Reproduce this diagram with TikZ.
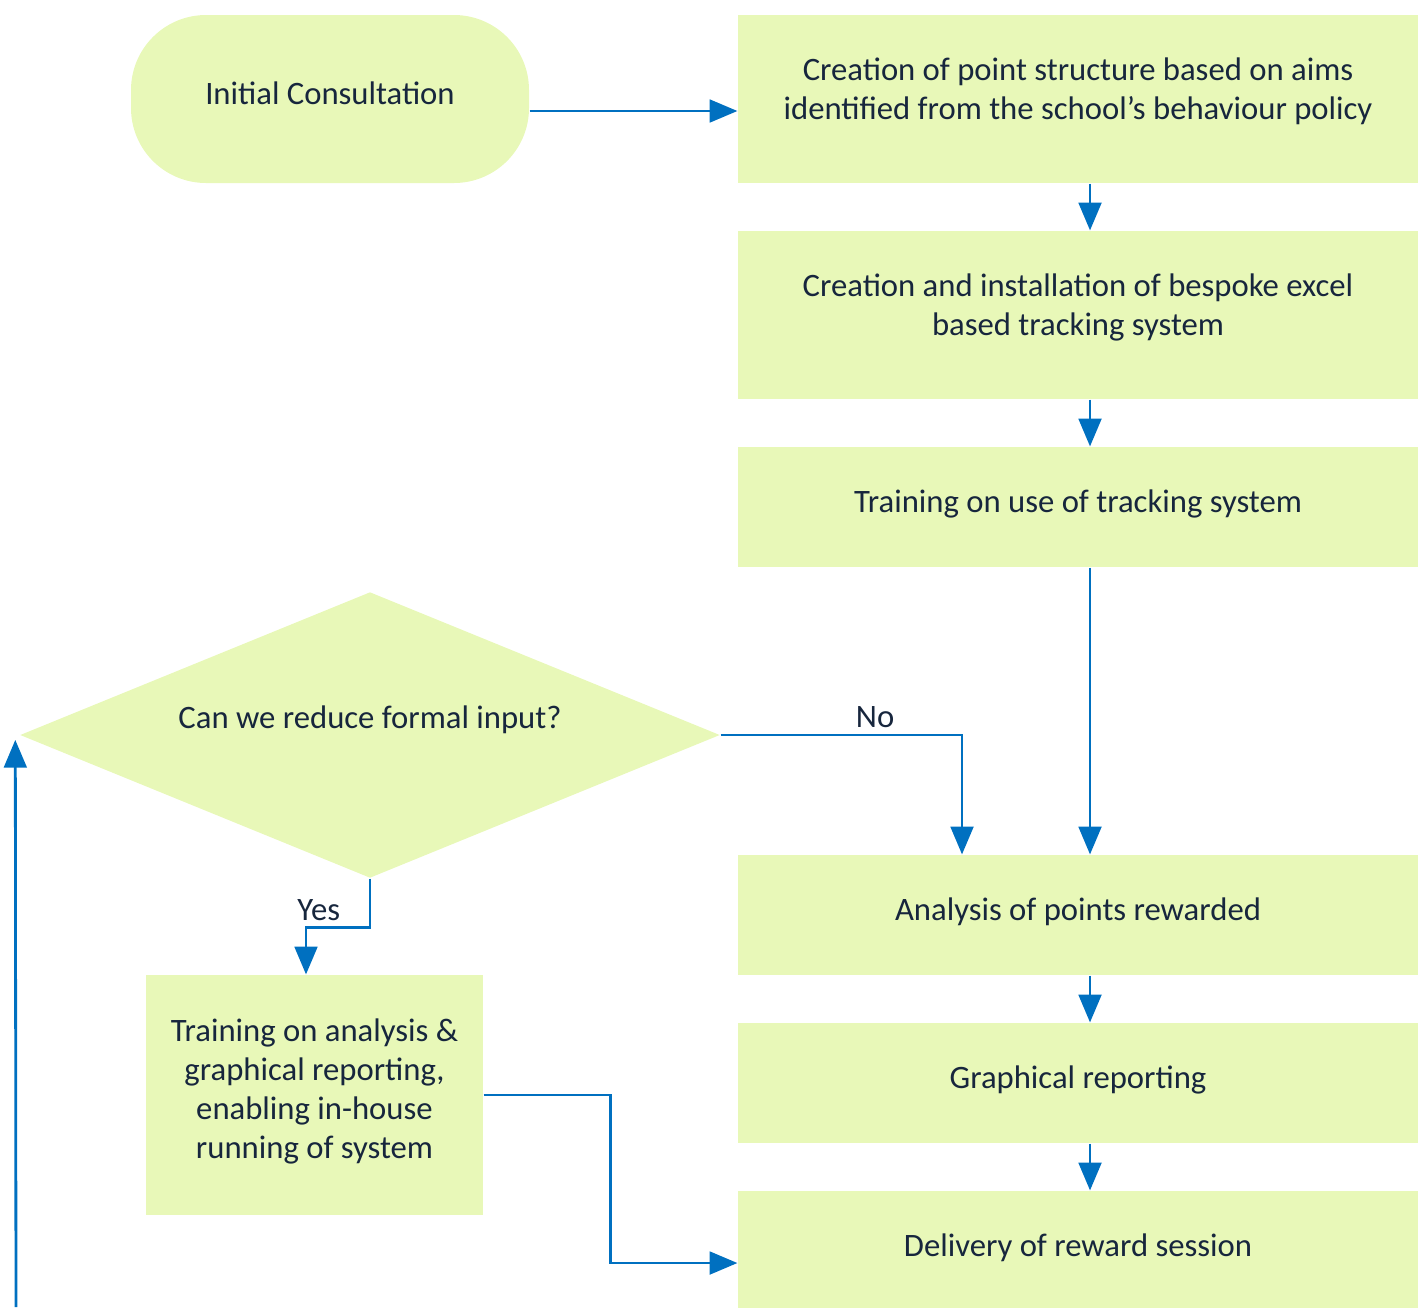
\documentclass[tikz,border=0pt]{standalone}
\usepackage{fontspec}
\setmainfont{Carlito}
\usepackage{tikz}
\usetikzlibrary{shapes.geometric, arrows, positioning}
\definecolor{boxfill}{HTML}{E8F8B8}
\definecolor{linkblue}{HTML}{0070C0}
\definecolor{textnavy}{HTML}{17263D}
\newcommand{\boxpad}[1]{\endgraf\vskip#1\hrule height0pt}
\tikzstyle{terminal}=
[
	rectangle
	,rounded corners=0.75cm
	,minimum width=3.98cm
	,minimum height=1.68cm
	,text depth=0.12cm
	,fill=boxfill
	,align=center
]
\tikzstyle{process1}=
[
	rectangle
	,text width=6.4cm
	,inner sep=0.2cm
	,minimum height=1.68cm
	,fill=boxfill
	,align=flush center
	,execute at end node={\boxpad{0.16cm}}
]
\tikzstyle{process2}=
[
	rectangle
	,text width=6.4cm
	,inner sep=0.2cm
	,minimum height=1.2cm
	,fill=boxfill
	,align=flush center
	,execute at end node={\boxpad{0.06cm}}
]
\tikzstyle{process3}=
[
	rectangle
	,text width=3.17cm
	,inner sep=0.1cm
	,minimum height=2.4cm
	,fill=boxfill
	,align=flush center
	,execute at end node={\boxpad{0.08cm}}
]
\tikzstyle{decision}=
[
	diamond
	,aspect=2.45
	,minimum width=7cm
	,minimum height=2.86cm
	,inner sep=0cm
	,fill=boxfill
	,align=center
]
\tikzstyle{arrow} = [thick,->,>=triangle 45,draw=linkblue]
\tikzstyle{answer} = [above,yshift=-0.06cm]

\begin{document}
\begin{tikzpicture}[node distance=2cm, font=\fontsize{9.3}{11.1}\selectfont, text=textnavy]
\useasboundingbox (0,0) rectangle (14.18,-13.07);
\node(start)[terminal] at (3.30,-0.99){Initial Consultation};
\node(pro1)[process1, right of=start, node distance=7.48cm]{Creation of point structure based on aims\\ identified from the school's behaviour policy};
\node(pro2)[process1, below of=pro1, node distance=2.16cm]{Creation and installation of bespoke excel\\ based tracking system};
\node(pro3)[process2, below of=pro2, node distance=1.92cm]{Training on use of tracking system};
\node(ana)[process2, below of=pro3, node distance=4.08cm]{Analysis of points rewarded};
\node(graph)[process2, below of=ana, node distance=1.68cm]{Graphical reporting};
\node(deliv)[process2, below of=graph, node distance=1.68cm]{Delivery of reward session};
\node(dia)[decision] at (3.70,-7.35){\raisebox{0.36cm}{Can we reduce formal input?}};
\node(train)[process3, below of=dia, xshift=-0.555cm, node distance=3.6cm]{Training on analysis \&\\ graphical reporting,\\ enabling in-house\\ running of system};
\coordinate(loop) at (0.16,-13.07);

\draw[arrow]([yshift=-0.12cm]start.east)--([yshift=-0.12cm]pro1.west);
\draw[arrow]([xshift=0.12cm]pro1.south)--([xshift=0.12cm]pro2.north);
\draw[arrow]([xshift=0.12cm]pro2.south)--([xshift=0.12cm]pro3.north);
\draw[arrow]([xshift=0.12cm]pro3.south)--([xshift=0.12cm]ana.north);
\draw[arrow]([xshift=0.12cm]ana.south)--([xshift=0.12cm]graph.north);
\draw[arrow]([xshift=0.12cm]graph.south)--([xshift=0.12cm]deliv.north);

\draw[arrow](dia.east)-|node[pos=0.32,answer]{No}([xshift=-1.16cm]ana.north);
\draw[arrow](dia.south)--++(0,-0.49)-|node[pos=0.4,answer]{Yes}([xshift=-0.085cm]train.north);
\draw[arrow](train.east)--++(1.27,0)|-([yshift=-0.12cm]deliv.west);
\draw[arrow](loop)--([xshift=-0.04cm,yshift=-0.05cm]dia.west);

\end{tikzpicture}
\end{document}
